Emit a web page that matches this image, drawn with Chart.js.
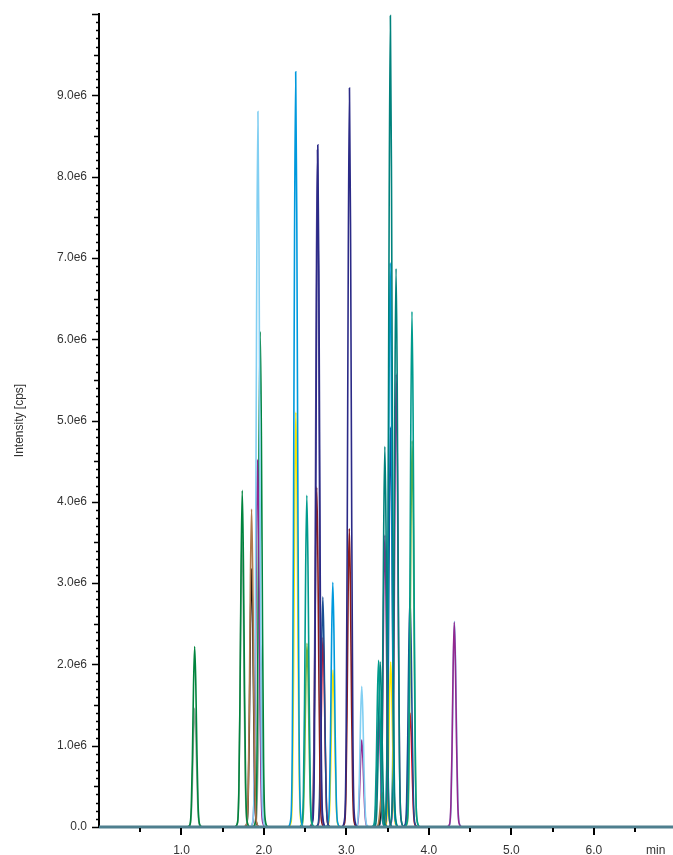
<!DOCTYPE html>
<html>
<head>
<meta charset="utf-8">
<script src="https://cdn.jsdelivr.net/npm/chart.js@4"></script>
<style>
  html, body { margin: 0; padding: 0; background: #fff; }
  #wrap { width: 673px; height: 855px; position: relative; }
</style>
</head>
<body>
<div id="wrap"><canvas id="chart"></canvas></div>
<script>
// retention time (min), apex height (x1e6 cps) and colour of each trace
const peakTimes = [
  1.160, 1.160, 1.737, 1.735, 1.850, 1.850, 1.927, 1.923, 1.955, 1.957,
  2.385, 2.387, 2.520, 2.522, 2.653, 2.648, 2.640, 2.714, 2.716, 2.835,
  2.837, 3.037, 3.035, 3.186, 3.186, 3.390, 3.410, 3.392, 3.430, 3.430,
  3.466, 3.466, 3.533, 3.531, 3.535, 3.537, 3.602, 3.604, 3.795, 3.797,
  3.771, 3.773, 4.308, 4.310
];
const peakHeights = [
  2.22, 1.46, 4.14, 3.59, 3.91, 3.18, 8.80, 4.52, 6.09, 2.28,
  9.29, 5.10, 4.08, 2.26, 8.39, 8.33, 4.18, 2.83, 2.33, 3.01,
  1.93, 9.09, 3.67, 1.73, 1.07, 2.05, 2.03, 1.37, 0.43, 0.20,
  4.68, 3.59, 9.98, 6.94, 4.92, 2.03, 6.87, 5.57, 6.34, 4.75,
  2.82, 1.40, 2.52, 2.53
];
const peakColors = [
  "green", "gray", "green", "gray", "tan", "black", "lightblue", "purple", "green", "gray",
  "blue", "yellow", "teal", "lime", "indigo", "violet", "darkred", "navy", "red", "blue",
  "yellow", "indigo", "darkred", "lightblue", "purple", "teal", "darkteal", "purple", "tan", "black",
  "darkteal", "purple", "darkteal", "blue", "navy", "yellow", "darkteal", "purple", "teal", "lime",
  "navy", "red", "purple", "lightblue"
];

// peak profile: offset from apex (min) and fraction of apex
const shapeOffsets = [-0.09, -0.057, -0.041, -0.028, -0.014, 0, 0.014, 0.028, 0.041, 0.057, 0.09];
const shapeLevels  = [0, 0.013, 0.11, 0.37, 0.78, 1, 0.79, 0.40, 0.13, 0.02, 0];

const yTickStep = 1e6;
const yMinorStep = 1e5;
const xTickValues = [0.5, 1, 1.5, 2, 2.5, 3, 3.5, 4, 4.5, 5, 5.5, 6, 6.5];
const xUnitLabel = "min";
const xUnitAt = 6.75;

const palette = {
  green: "#00843d", gray: "#9aa89e", tan: "#b07a4c", black: "#111111",
  lightblue: "#82cff2", purple: "#93278f", blue: "#0099dd", yellow: "#ffe600",
  teal: "#009b8d", lime: "#6db33f", indigo: "#2b2a87", violet: "#5f52a0",
  darkred: "#8b1c1c", navy: "#1a4f93", red: "#e2001a", darkteal: "#00827c"
};

const datasets = peakTimes.map((t, i) => ({
  data: shapeOffsets.map((d, k) => ({ x: t + d, y: peakHeights[i] * 1e6 * shapeLevels[k] })),
  borderColor: palette[peakColors[i]],
  borderWidth: 1.6,
  cubicInterpolationMode: "monotone",
  pointRadius: 0
}));

datasets.push({
  data: [{ x: 0, y: 0 }, { x: 7, y: 0 }],
  borderColor: "#4e7f8e",
  borderWidth: 3,
  pointRadius: 0,
  clip: false,
  order: -1
});

// short/long tick marks for both axes, plus the unit label
const tickMarks = {
  id: "tickMarks",
  afterDraw(chart) {
    const ctx = chart.ctx;
    const y = chart.scales.y;
    const x = chart.scales.x;
    const left = chart.chartArea.left;
    const bottom = chart.chartArea.bottom;
    ctx.save();
    ctx.strokeStyle = "#000";
    ctx.lineWidth = 1.5;
    for (let v = 0; v <= y.max + 1; v += yMinorStep) {
      const py = Math.round(y.getPixelForValue(v)) + 0.5;
      const n = Math.round(v / yMinorStep);
      const len = n % 10 === 0 ? 7 : (n % 5 === 0 ? 5 : 3);
      ctx.beginPath();
      ctx.moveTo(left - len, py);
      ctx.lineTo(left, py);
      ctx.stroke();
    }
    ctx.lineWidth = 2;
    xTickValues.forEach(v => {
      const px = Math.round(x.getPixelForValue(v));
      const len = Number.isInteger(v) ? 7 : 4;
      ctx.beginPath();
      ctx.moveTo(px, bottom + 1);
      ctx.lineTo(px, bottom + 1 + len);
      ctx.stroke();
    });
    ctx.fillStyle = "#333";
    ctx.font = "12px 'Liberation Sans', Arial, sans-serif";
    ctx.textAlign = "center";
    ctx.textBaseline = "middle";
    ctx.fillText(xUnitLabel, x.getPixelForValue(xUnitAt), bottom + 24);
    ctx.restore();
  }
};

Chart.defaults.font.family = "'Liberation Sans', Arial, sans-serif";
Chart.defaults.color = "#333";

new Chart(document.getElementById("chart"), {
  type: "line",
  data: { datasets: datasets },
  options: {
    responsive: true,
    maintainAspectRatio: false,
    animation: false,
    layout: { padding: { top: 14, right: 0, left: 0, bottom: 0 } },
    plugins: { legend: { display: false }, tooltip: { enabled: false } },
    scales: {
      x: {
        type: "linear",
        min: 0,
        max: 6.96,
        afterBuildTicks: scale => { scale.ticks = xTickValues.map(v => ({ value: v })); },
        afterFit: scale => { scale.height = 28; scale.paddingRight = 0; },
        grid: { display: false, drawTicks: false },
        border: { display: false },
        ticks: {
          autoSkip: false,
          maxRotation: 0,
          padding: 16,
          font: { size: 12 },
          callback: v => Number.isInteger(v) ? v.toFixed(1) : ""
        }
      },
      y: {
        min: 0,
        max: 1e7,
        afterFit: scale => { scale.width = 99; scale.paddingTop = 0; scale.paddingBottom = 0; },
        grid: { display: false, drawTicks: false },
        border: { display: true, color: "#000", width: 2 },
        title: { display: true, text: "Intensity [cps]", font: { size: 12 }, padding: { top: 12, bottom: 6 } },
        ticks: {
          stepSize: yTickStep,
          padding: 12,
          font: { size: 12 },
          callback: v => v === 0 ? "0.0" : (v >= 1e7 ? "" : (v / 1e6).toFixed(1) + "e6")
        }
      }
    }
  },
  plugins: [tickMarks]
});
</script>
</body>
</html>
